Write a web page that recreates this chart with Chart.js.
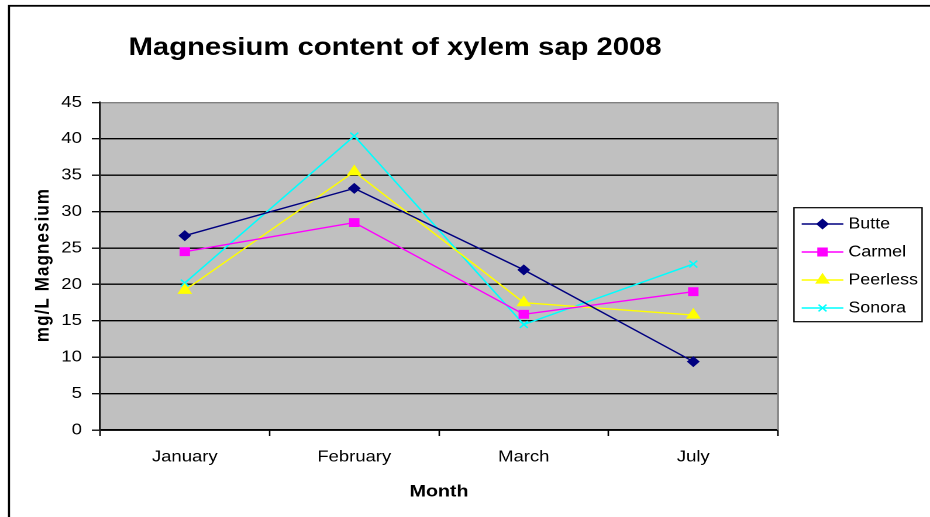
<!DOCTYPE html>
<html>
<head>
<meta charset="utf-8">
<script src="https://cdn.jsdelivr.net/npm/chart.js@4.4.0/dist/chart.umd.min.js"></script>
<style>
  html, body { margin: 0; padding: 0; background: #fff; }
  #c { display: block; width: 930px; height: 517px; }
</style>
</head>
<body>
<canvas id="c" width="795" height="517" style="width:930px;height:517px"></canvas>
<script>
// ---- data ----
const months = ['January', 'February', 'March', 'July'];
const butte = [26.7, 33.2, 22.0, 9.4];
const carmel = [24.5, 28.5, 15.9, 19.0];
const peerless = [19.2, 35.5, 17.5, 15.8];
const sonora = [20.2, 40.4, 14.5, 22.8];
const seriesNames = ['Butte', 'Carmel', 'Peerless', 'Sonora'];
const yMin = 0, yMax = 45, yStep = 5;
const chartTitle = 'Magnesium content of xylem sap 2008';
const xTitle = 'Month';
const yTitle = 'mg/L Magnesium';

const FONT = '"Liberation Sans", Arial, Helvetica, sans-serif';
Chart.defaults.font.family = FONT;
Chart.defaults.color = '#000';

// canvas units; the canvas is widened by CSS
const AREA = { left: 85.5, top: 102.5, right: 665.1, bottom: 430 };
const CW = 795, CH = 517;

const styles = [
  { color: '#000080', pointStyle: 'rectRot', radius: 4.8, pbw: 1 },
  { color: '#FF00FF', pointStyle: 'rect', radius: 5.6, pbw: 1 },
  { color: '#FFFF00', pointStyle: 'triangle', radius: 6.3, pbw: 1 },
  { color: '#00FFFF', pointStyle: 'crossRot', radius: 4.8, pbw: 1.4 }
];
const values = [butte, carmel, peerless, sonora];

const datasets = values.map((v, i) => ({
  label: seriesNames[i],
  data: v,
  borderColor: styles[i].color,
  backgroundColor: styles[i].color,
  pointBackgroundColor: styles[i].color,
  pointBorderColor: styles[i].color,
  pointStyle: styles[i].pointStyle,
  pointRadius: styles[i].radius,
  pointHoverRadius: styles[i].radius,
  pointBorderWidth: styles[i].pbw,
  borderWidth: 1.4,
  tension: 0,
  fill: false
}));

// background, plot fill and outer frame
const framePlugin = {
  id: 'frame',
  beforeDraw(chart) {
    const ctx = chart.ctx;
    const a = chart.chartArea;
    ctx.save();
    ctx.fillStyle = '#fff';
    ctx.fillRect(0, 0, CW, CH);
    ctx.fillStyle = '#C0C0C0';
    ctx.fillRect(a.left, a.top, a.right - a.left, a.bottom - a.top);
    ctx.strokeStyle = '#000';
    ctx.lineWidth = 1.8;
    ctx.strokeRect(7.7, 5.8, 900, 600);
    ctx.restore();
  },
  beforeDatasetsDraw(chart) {
    const ctx = chart.ctx;
    const a = chart.chartArea;
    ctx.save();
    ctx.strokeStyle = '#808080';
    ctx.lineWidth = 1.6;
    ctx.beginPath();
    ctx.moveTo(a.right, a.top);
    ctx.lineTo(a.right, a.bottom);
    ctx.stroke();
    ctx.restore();
  }
};

// chart title, vertical axis title and boxed legend
const textPlugin = {
  id: 'texts',
  afterDraw(chart) {
    const ctx = chart.ctx;
    ctx.save();
    ctx.fillStyle = '#000';
    ctx.font = 'bold 25px ' + FONT;
    ctx.textAlign = 'center';
    ctx.textBaseline = 'alphabetic';
    ctx.fillText(chartTitle, 337.7, 55);

    ctx.save();
    ctx.translate(36.8, 265);
    ctx.rotate(-Math.PI / 2);
    ctx.font = 'bold 17px ' + FONT;
    if ('letterSpacing' in ctx) ctx.letterSpacing = '1.1px';
    ctx.textAlign = 'center';
    ctx.textBaseline = 'middle';
    ctx.fillText(yTitle, 0, 0);
    ctx.restore();

    // legend
    const box = { x: 678.7, y: 207.7, w: 109.5, h: 114 };
    ctx.strokeStyle = '#000';
    ctx.lineWidth = 1.2;
    ctx.strokeRect(box.x, box.y, box.w, box.h);
    const rows = [224, 252, 280, 308];
    chart.data.datasets.forEach((ds, i) => {
      const y = rows[i];
      ctx.strokeStyle = ds.borderColor;
      ctx.lineWidth = 1.4;
      ctx.beginPath();
      ctx.moveTo(685.3, y);
      ctx.lineTo(720.9, y);
      ctx.stroke();
      ctx.fillStyle = ds.pointBackgroundColor;
      ctx.strokeStyle = ds.pointBorderColor;
      ctx.lineWidth = ds.pointBorderWidth;
      Chart.helpers.drawPoint(ctx, {
        pointStyle: ds.pointStyle, radius: ds.pointRadius,
        borderWidth: ds.pointBorderWidth, rotation: 0
      }, 703.1, y);
      ctx.fillStyle = '#000';
      ctx.font = '15.3px ' + FONT;
      ctx.textAlign = 'left';
      ctx.textBaseline = 'middle';
      ctx.fillText(ds.label, 725.2, y + 0.5);
    });
    ctx.restore();
  }
};

new Chart(document.getElementById('c'), {
  type: 'line',
  data: { labels: months, datasets },
  options: {
    responsive: false,
    devicePixelRatio: 2,
    animation: false,
    events: [],
    layout: { padding: { left: 0, top: AREA.top, right: CW - AREA.right, bottom: 0 } },
    plugins: { legend: { display: false }, title: { display: false }, tooltip: { enabled: false } },
    scales: {
      x: {
        type: 'category',
        offset: true,
        afterFit(scale) { scale.height = CH - AREA.bottom; },
        grid: { offset: true, drawOnChartArea: false, drawTicks: true, tickLength: 6, color: '#000', tickColor: '#000', tickWidth: 1.3 },
        border: { color: '#000', width: 1.6 },
        ticks: { font: { size: 15.8 }, color: '#000', padding: 11.5, maxRotation: 0 },
        title: { display: true, text: xTitle, font: { size: 16.8, weight: 'bold' }, color: '#000', padding: { top: 0, bottom: 15.2 } }
      },
      y: {
        min: yMin, max: yMax,
        afterFit(scale) { scale.width = AREA.left; },
        grid: {
          color: (c) => (c.tick && c.tick.value === yMax ? '#808080' : '#000'),
          lineWidth: 1.4, tickColor: '#000', tickWidth: 1.3, tickLength: 7, drawTicks: true
        },
        border: { color: '#1a1a1a', width: 1.7 },
        ticks: { stepSize: yStep, font: { size: 15.8 }, color: '#000', padding: 8.5 }
      }
    }
  },
  plugins: [framePlugin, textPlugin]
});
</script>
</body>
</html>
